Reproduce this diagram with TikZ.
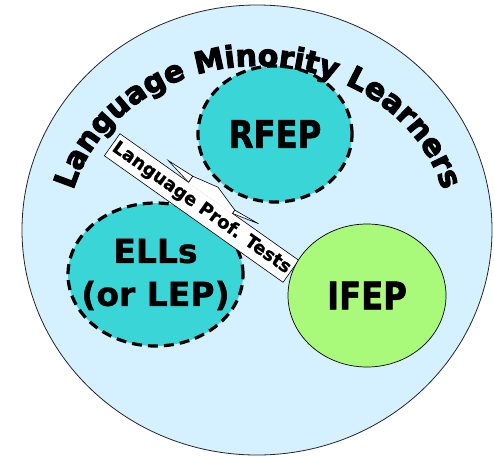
\documentclass[tikz,border=0pt]{standalone}
\usepackage{fontspec}
\usetikzlibrary{shapes.geometric,decorations.text}

\newfontfamily\wideface{DejaVu Sans}[FakeBold=1]
\newfontfamily\narrowface{DejaVu Sans}[FakeStretch=0.85, FakeBold=1.5]
\newfontfamily\heavyface{DejaVu Sans}[FakeBold=3.5]
\newcommand\titlefont{\heavyface\bfseries\fontsize{30}{32}\selectfont}

\definecolor{groupblue}{HTML}{D5F0FE}
\definecolor{subteal}{HTML}{3AD5D6}
\definecolor{subgreen}{HTML}{A9F97B}

\begin{document}
\begin{tikzpicture}[x=1pt, y=-1pt,
	group/.style={ellipse, draw=black!85, line width=0.8pt, fill=groupblue, inner sep=0pt},
	dashgroup/.style={ellipse, draw=black, line width=3.2pt, dash pattern=on 10pt off 6pt, fill=subteal, inner sep=0pt},
	solidgroup/.style={ellipse, draw=black, line width=0.7pt, fill=subgreen, inner sep=0pt},
	bigtext/.style={font=\narrowface\bfseries\fontsize{38}{42}\selectfont, inner sep=0pt},
	elltext/.style={font=\wideface\bfseries\fontsize{33}{43}\selectfont, align=center, inner sep=0pt},
	testbox/.style={draw=black, line width=0.6pt, fill=white, minimum width=219pt, minimum height=27pt, inner sep=0pt, font=\wideface\bfseries\fontsize{18}{20}\selectfont}]

	\useasboundingbox (0,0) rectangle (494,456);

	% the whole group
	\node[group, minimum width=470pt, minimum height=450pt] (lml) at (257,230) {};

	% the sub groups
	\node[dashgroup, minimum width=154pt, minimum height=136pt] (rfep) at (275,134) {};
	\node[dashgroup, minimum width=175pt, minimum height=143pt] (ell) at (155.5,274.5) {};

	% the test label with its tabs
	\node[testbox, rotate=-35.3] (tests) at (201.5,208) {Language Prof. Tests};
	\begin{scope}[shift={(tests.center)}, rotate=-35.3]
		\fill[white] (-25.5,-12.9) -- (-25.5,-20.9) -- (1.5,-26.5) -- (28.5,-17.5) -- (28.5,-12.9) -- cycle;
		\draw[line width=0.6pt] (-25.5,-13.5) -- (-25.5,-20.9) -- (1.5,-26.5) -- (28.5,-17.5) -- (28.5,-13.5);
		\draw[line width=0.6pt, fill=white] (-54.5,-19.5) -- (-25.5,-20.9) -- (-25.5,-13.5) -- cycle;
		\draw[line width=0.6pt, fill=white] (28.5,-13.5) -- (28.5,-17.5) -- (55.5,-20.1) -- cycle;
	\end{scope}

	\node[solidgroup, minimum width=158pt, minimum height=143pt] (ifep) at (367,295.5) {};

	% Draw the names of the groups
	\node[bigtext] (rfeplabel) at (rfep.center) {RFEP};
	\node[bigtext] (ifeplabel) at (ifep.center) {IFEP};
	\node[elltext] (elllabel) at (ell.center) {ELLs\\(or LEP)};

	\path[decorate, decoration={text along path, text align=center,
		text={|\titlefont|Language Minority Learners}}]
		(258,233) ++(190:191 and 167) arc[start angle=190, end angle=350, x radius=191, y radius=167];
\end{tikzpicture}
\end{document}
